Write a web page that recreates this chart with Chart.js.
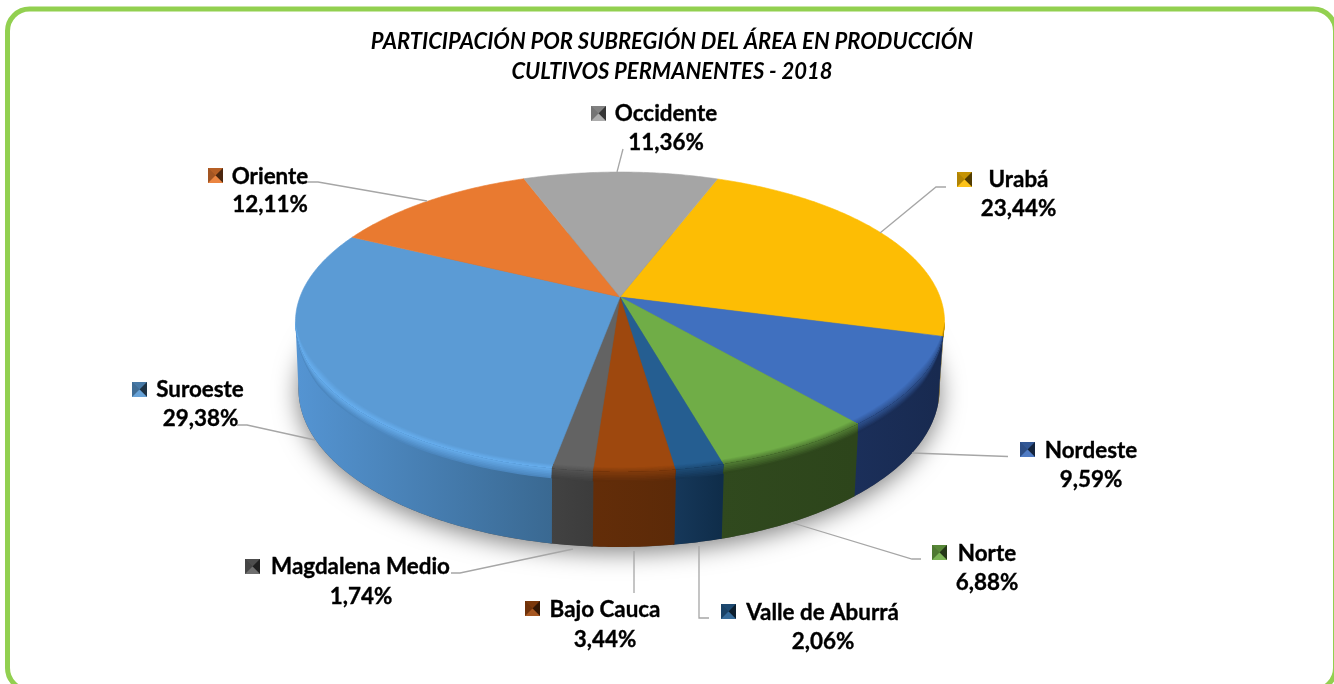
<!DOCTYPE html>
<html><head><meta charset="utf-8">
<style>html,body{margin:0;padding:0;background:#fff;overflow:hidden}#w{position:absolute;left:0;top:0;width:1334px;height:684px}</style>
<script src="https://cdn.jsdelivr.net/npm/chart.js@4"></script>
</head><body><div id="w"><canvas id="c"></canvas></div>
<script>
const titleLines = ["PARTICIPACIÓN POR SUBREGIÓN DEL ÁREA EN PRODUCCIÓN", "CULTIVOS PERMANENTES - 2018"];
const categories = ["Urabá","Nordeste","Norte","Valle de Aburrá","Bajo Cauca","Magdalena Medio","Suroeste","Oriente","Occidente"];
const shares = [23.44,9.59,6.88,2.06,3.44,1.74,29.38,12.11,11.36];
const topColors = ["#fdbd04","#4070bf","#70ad47","#255e91","#9e480e","#636363","#5b9bd5","#e97a30","#a5a5a5"];
const wallLeft  = ["#7a5c00","#1b2f5a","#30491e","#16385a","#632d09","#424242","#5494d2","#7a3f15","#555555"];
const wallRight = ["#7a5c00","#182a50","#2d451b","#0f2d4a","#5c2a08","#3c3c3c","#3a6992","#7a3f15","#555555"];
const labelLayout = [
 {mx:957,my:179,nx:1018.5,vx:1018.5,ny:180,vy:209,line:[[880,233],[936,187],[946,187]]},
 {mx:1020,my:449,nx:1091,vx:1091,ny:451,vy:480,line:[[912,453],[1008,456.5]]},
 {mx:932,my:552,nx:987,vx:987,ny:554,vy:583,line:[[793,523],[912,559],[921,559]]},
 {mx:721,my:611,nx:822.5,vx:823,ny:613,vy:642,line:[[699,546],[699,618],[709,618]]},
 {mx:525,my:608,nx:605,vx:605,ny:610,vy:640,line:[[634,551],[634,593]]},
 {mx:245,my:566,nx:360.5,vx:361,ny:567,vy:597,line:[[573,549],[460,573],[451,573]]},
 {mx:132,my:389,nx:200,vx:200.5,ny:390,vy:419,line:[[315,440],[247,425],[237,425]]},
 {mx:208,my:175,nx:270,vx:270,ny:177,vy:205,line:[[308,182],[318,182],[427,201]]},
 {mx:591,my:113,nx:666,vx:666,ny:114,vy:143,line:[[617,172],[623,149]]}
];
const LABEL_FONT = 'bold 22.4px Lato, "Open Sans", sans-serif';
const hex = h => [1,3,5].map(i=>parseInt(h.substr(i,2),16));
const mix = (a,b,t)=>{const A=hex(a),B=hex(b);return '#'+A.map((v,i)=>Math.round(v+(B[i]-v)*t).toString(16).padStart(2,'0')).join('');};
function upper(a,r=1){const s=Math.sin(a)*r,c=Math.cos(a)*r,d=1-s/6;return [620+320*c/d,297+145.8*s/d];}
function low(a){const p=upper(a);return [619+(p[0]-620)*321/325,389+(p[1]-322)*158/150];}
function wallAt(a,t){const p=upper(a),q=low(a);return [p[0]+(q[0]-p[0])*t,p[1]+(q[1]-p[1])*t];}
function samples(a0,a1){const n=Math.max(2,Math.ceil((a1-a0)/0.012));const o=[];for(let i=0;i<=n;i++)o.push(a0+(a1-a0)*i/n);return o;}
function band(ctx,a0,a1,f0,f1,fill){
  const s=samples(a0,a1);ctx.beginPath();
  s.forEach((a,i)=>{const p=f0(a);i?ctx.lineTo(p[0],p[1]):ctx.moveTo(p[0],p[1]);});
  s.slice().reverse().forEach(a=>{const p=f1(a);ctx.lineTo(p[0],p[1]);});
  ctx.closePath();ctx.fillStyle=fill;ctx.fill();
}
const FRONT0=9.6*Math.PI/180,FRONT1=170.4*Math.PI/180;
const taper=a=>Math.max(0,Math.min(1,(a-FRONT0)/0.35,(FRONT1-a)/0.35));
const pie3d={
 id:'pie3d',
 beforeDraw(chart){
  const c=chart.ctx;c.save();c.fillStyle='#fff';c.fillRect(0,0,1334,684);
  c.strokeStyle='#92d050';c.lineWidth=5;c.beginPath();c.roundRect(7.5,9,1328,681,22);c.stroke();c.restore();
 },
 beforeDatasetDraw(chart,args){
  const c=chart.ctx,arcs=args.meta.data;c.save();
  c.save();c.shadowColor='rgba(0,0,0,0.5)';c.shadowBlur=24;c.shadowOffsetY=5;c.fillStyle='#555';
  c.beginPath();samples(0,Math.PI*2).forEach((a,i)=>{const p=low(a);i?c.lineTo(p[0],p[1]):c.moveTo(p[0],p[1]);});c.closePath();c.fill();c.restore();
  arcs.forEach((el,i)=>{
    const a0=Math.max(el.startAngle,FRONT0),a1=Math.min(el.endAngle,FRONT1);if(a1<=a0)return;
    const xa=low(a0)[0],xb=low(a1)[0];
    const g=c.createLinearGradient(Math.min(xa,xb),0,Math.max(xa,xb),0);
    g.addColorStop(0,wallLeft[i]);g.addColorStop(1,wallRight[i]);
    band(c,a0-0.002,a1+0.002,a=>upper(a),low,g);
  });
  arcs.forEach((el,i)=>{
    c.beginPath();c.moveTo(620,297);
    samples(el.startAngle,el.endAngle).forEach(a=>{const p=upper(a);c.lineTo(p[0],p[1]);});
    c.closePath();c.fillStyle=topColors[i];c.fill();c.strokeStyle=topColors[i];c.lineWidth=0.6;c.stroke();
  });
  arcs.forEach((el,i)=>{
    const a0=Math.max(el.startAngle,FRONT0),a1=Math.min(el.endAngle,FRONT1);if(a1<=a0)return;
    const rim=i===6?'#67aeee':mix(topColors[i],wallLeft[i],0.45);
    const wallMid=mix(wallLeft[i],wallRight[i],a0>1.9?0.6:0.3);
    const N=6;
    for(let k=0;k<N;k++){const dr=0.022*(1-k/N);
      band(c,a0,a1,a=>upper(a,1-dr*taper(a)),a=>upper(a,1),mix(topColors[i],rim,(k+1)/N));}
    for(let k=N-1;k>=0;k--){const t1=0.13*(k+1)/N;
      band(c,a0,a1,a=>upper(a,1),a=>wallAt(a,t1*taper(a)),mix(rim,wallMid,(k+1)/N));}
  });
  c.restore();
  return false;
 },
 afterDraw(chart){
  const c=chart.ctx;c.save();
  labelLayout.forEach((l,i)=>{
    c.strokeStyle='#a6a6a6';c.lineWidth=1.3;c.beginPath();
    l.line.forEach((p,j)=>j?c.lineTo(p[0],p[1]):c.moveTo(p[0],p[1]));c.stroke();
    const b=topColors[i],x=l.mx,y=l.my-7,s=15,cx=x+s/2,cy=y+s/2;
    c.fillStyle=mix(b,'#000000',0.3);c.fillRect(x,y,s,s);
    const tri=(p,f)=>{c.beginPath();c.moveTo(p[0],p[1]);c.lineTo(p[2],p[3]);c.lineTo(cx,cy);c.closePath();c.fillStyle=f;c.fill();};
    tri([x,y,x+s,y],mix(b,'#000000',0.22));
    tri([x,y,x,y+s],mix(b,'#000000',0.3));
    tri([x+s,y,x+s,y+s],mix(b,'#000000',0.68));
    tri([x,y+s,x+s,y+s],mix(b,'#ffffff',0.08));
    c.fillStyle='#000';c.strokeStyle='#000';c.lineWidth=0.35;c.font=LABEL_FONT;c.textAlign='center';c.textBaseline='middle';
    const pct=shares[i].toFixed(2).replace('.',',')+'%';
    c.fillText(categories[i],l.nx,l.ny);c.strokeText(categories[i],l.nx,l.ny);
    c.fillText(pct,l.vx,l.vy);c.strokeText(pct,l.vx,l.vy);
  });
  c.restore();
 }
};
new Chart(document.getElementById('c'),{
 type:'pie',
 data:{labels:categories,datasets:[{data:shares,backgroundColor:topColors,borderWidth:0}]},
 options:{responsive:true,maintainAspectRatio:false,animation:false,rotation:20.6,
  layout:{padding:{left:10,top:27}},
  plugins:{legend:{display:false},tooltip:{enabled:false},
   title:{display:true,text:titleLines,color:'#000',align:'center',padding:{top:0,bottom:0},
    font:{family:'Lato, "Open Sans", sans-serif',size:22,weight:'bold',style:'italic',lineHeight:1.36}}}},
 plugins:[pie3d]
});
</script></body></html>
